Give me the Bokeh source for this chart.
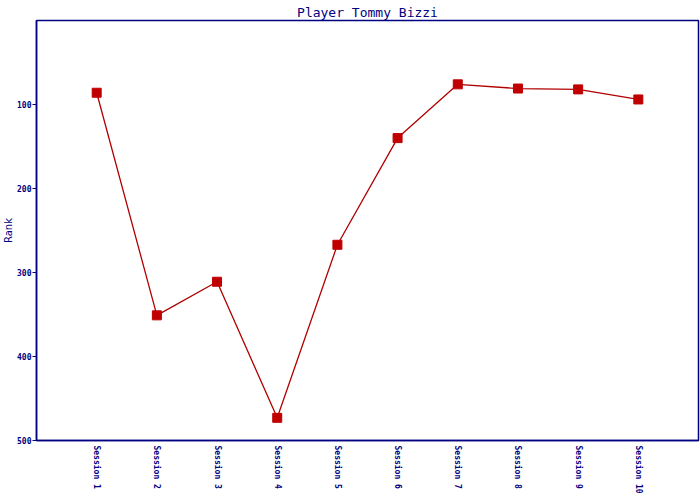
from bokeh.plotting import figure
from bokeh.models import Range1d, FixedTicker
from bokeh.embed import file_html
from bokeh.resources import INLINE

sessions = ["Session 1", "Session 2", "Session 3", "Session 4", "Session 5",
            "Session 6", "Session 7", "Session 8", "Session 9", "Session 10"]
positions = [1, 2, 3, 4, 5, 6, 7, 8, 9, 10]
ranks = [86, 351, 311, 473, 267, 140, 76, 81, 82, 94]
rank_ticks = [100, 200, 300, 400, 500]

NAVY = "#000080"
RED = "#c00000"

p = figure(width=700, height=500, output_backend="svg", toolbar_location=None,
           x_range=Range1d(0, 11), y_range=Range1d(500, 0),
           min_border_left=0, min_border_right=2, min_border_top=20,
           min_border_bottom=60, background_fill_color="white",
           border_fill_color="white", title="Player Tommy Bizzi")

p.title.align = "center"
p.title.text_font = "DejaVu Sans Mono"
p.title.text_font_size = "13px"
p.title.text_font_style = "normal"
p.title.text_color = NAVY
p.title.standoff = 2
p.title.offset = 0

p.line(positions, ranks, line_color="#b00000", line_width=1.3)
p.scatter(positions, ranks, marker="square", size=9, fill_color=RED, line_color=RED)

p.xgrid.visible = False
p.ygrid.visible = False
p.outline_line_color = NAVY
p.outline_line_width = 1.5

xa = p.xaxis[0]
xa.ticker = FixedTicker(ticks=positions)
xa.major_label_overrides = {pos: lab for pos, lab in zip(positions, sessions)}
xa.major_label_orientation = "vertical"
xa.major_tick_out = 0
xa.major_tick_in = 0
xa.minor_tick_out = 0
xa.minor_tick_in = 0
xa.major_label_standoff = 5
xa.axis_line_color = NAVY
xa.axis_line_width = 1.5
xa.major_label_text_font = "DejaVu Sans Mono"
xa.major_label_text_font_size = "8px"
xa.major_label_text_font_style = "bold"
xa.major_label_text_color = NAVY

ya = p.yaxis[0]
ya.ticker = FixedTicker(ticks=rank_ticks)
ya.major_tick_out = 4
ya.major_tick_in = 0
ya.minor_tick_out = 0
ya.minor_tick_in = 0
ya.major_tick_line_color = NAVY
ya.major_label_standoff = 1
ya.axis_line_color = NAVY
ya.axis_line_width = 1.5
ya.major_label_text_font = "DejaVu Sans Mono"
ya.major_label_text_font_size = "8px"
ya.major_label_text_font_style = "bold"
ya.major_label_text_color = NAVY
ya.axis_label = "Rank"
ya.axis_label_text_font = "DejaVu Sans"
ya.axis_label_text_font_size = "10px"
ya.axis_label_text_font_style = "normal"
ya.axis_label_text_color = NAVY
ya.axis_label_standoff = 0

open("out.html", "w").write(file_html(p, INLINE))
